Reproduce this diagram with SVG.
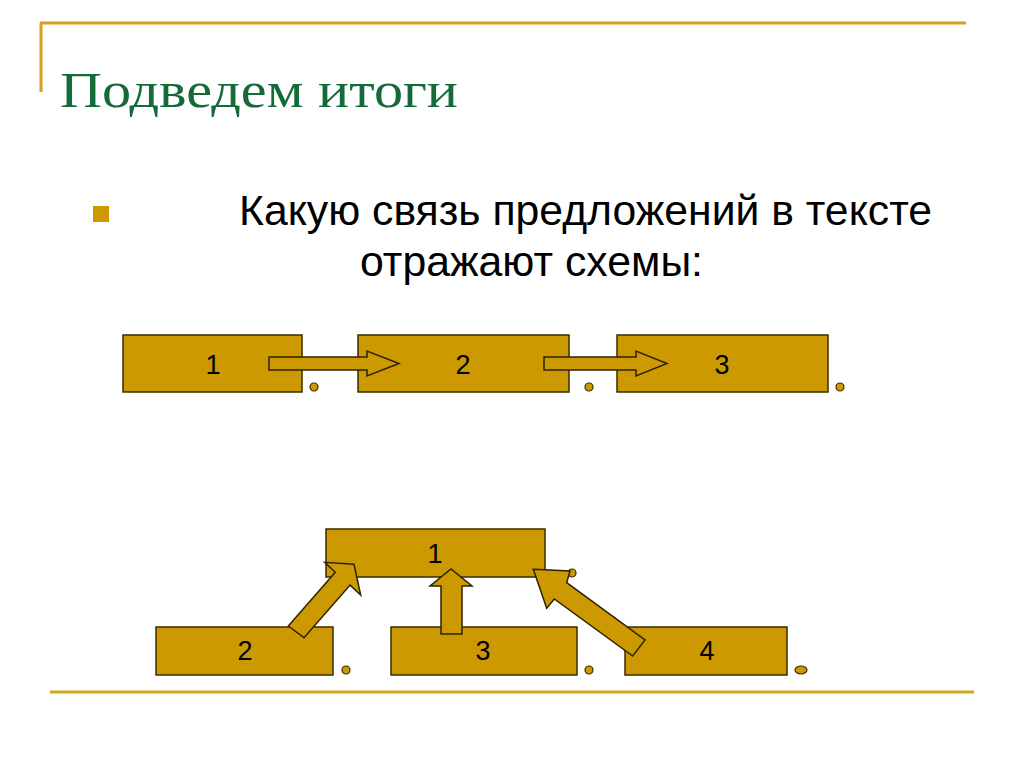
<svg xmlns="http://www.w3.org/2000/svg" width="1024" height="767" viewBox="0 0 1024 767">
<style>
.box{fill:#CC9900;stroke:#3a2c00;stroke-width:1.5}
.arr{fill:#CC9900;stroke:#2e2200;stroke-width:1.5;stroke-linejoin:miter}
.dot{fill:#CC9900;stroke:#3a2c00;stroke-width:1.2}
.num{font-family:"Liberation Sans",Arial,sans-serif;font-size:27px;fill:#000;text-anchor:middle}
.rule{stroke:#D4A21C;stroke-width:3;fill:none}
</style>
<rect width="1024" height="767" fill="#fff"/>
<g id="frame">
<path class="rule" d="M40,23 H966 M41,23 V92 M50,692 H974"/>
</g>
<g id="title">
<text x="60" y="107" font-family="Liberation Serif,'Times New Roman',serif" font-size="50" fill="#146B37" textLength="398" lengthAdjust="spacingAndGlyphs">Подведем итоги</text>
</g>
<g id="body">
<rect x="93" y="206" width="16" height="16" fill="#CC9900"/>
<text font-family="Liberation Sans,Arial,sans-serif" font-size="42" fill="#000">
<tspan x="239" y="225" textLength="693" lengthAdjust="spacingAndGlyphs">Какую связь предложений в тексте</tspan>
<tspan x="360" y="276" textLength="343" lengthAdjust="spacingAndGlyphs">отражают схемы:</tspan>
</text>
</g>
<g id="chain-nodes">
<g id="c1"><rect class="box" x="123" y="335" width="179" height="57"/><text class="num" x="213" y="374">1</text></g>
<g id="c2"><rect class="box" x="358" y="335" width="211" height="57"/><text class="num" x="463" y="374">2</text></g>
<g id="c3"><rect class="box" x="617" y="335" width="211" height="57"/><text class="num" x="722" y="374">3</text></g>
<circle class="dot" cx="314" cy="387" r="4"/>
<circle class="dot" cx="589" cy="387" r="4"/>
<circle class="dot" cx="840" cy="387" r="4"/>
</g>
<g id="chain-connectors">
<polygon class="arr" points="269,357 367,357 367,351 399,363.5 367,376 367,370 269,370"/>
<polygon class="arr" points="544,357 636,357 636,351 667,363.5 636,376 636,370 544,370"/>
</g>
<g id="star-nodes">
<g id="s1"><rect class="box" x="326" y="529" width="219" height="48"/><text class="num" x="435" y="563">1</text></g>
<g id="s2"><rect class="box" x="156" y="627" width="177" height="48"/><text class="num" x="245" y="660">2</text></g>
<g id="s3"><rect class="box" x="391" y="627" width="186" height="48"/><text class="num" x="483" y="660">3</text></g>
<g id="s4"><rect class="box" x="625" y="627" width="162" height="48"/><text class="num" x="707" y="660">4</text></g>
<circle class="dot" cx="572" cy="573" r="4"/>
<circle class="dot" cx="346" cy="670" r="4"/>
<circle class="dot" cx="589" cy="670" r="4"/>
<ellipse class="dot" cx="801" cy="670" rx="6" ry="4"/>
</g>
<g id="star-connectors">
<polygon class="arr" points="288.3,626 335.3,572.3 324.7,562.3 354,564.3 360.7,595 350.1,585.1 304,637.7"/>
<polygon class="arr" points="441,634 441,586 430,586 451,569 472,586 462,586 462,634"/>
<polygon class="arr" points="533.3,569.3 570,571 566.7,582.7 645,640 632.7,656 554.3,599 546.7,608.3"/>
</g>
</svg>
